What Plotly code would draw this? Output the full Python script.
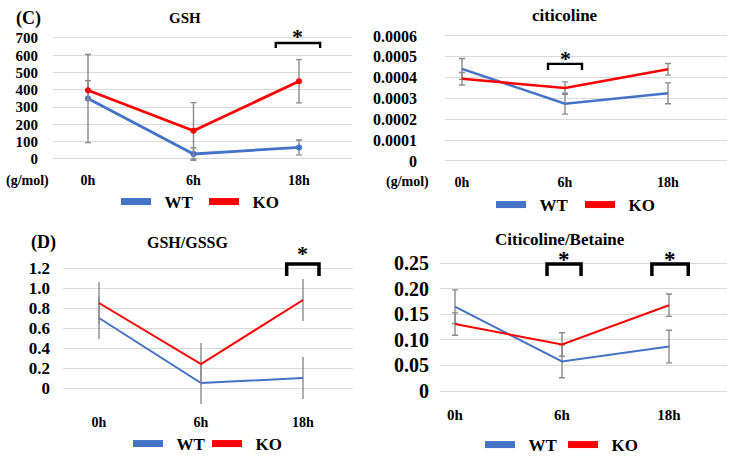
import plotly.graph_objects as go

W, H = 729, 456
FONT = "Liberation Serif"

# ---------------- data ----------------
categories = ["0h", "6h", "18h"]

gsh_wt = [350, 29, 67]
gsh_wt_err = [255, 36, 43]
gsh_ko = [398, 163, 450]
gsh_ko_err = [55, 163, 125]

cit_wt = [0.000442, 0.000275, 0.000325]
cit_wt_err = [0.00005, 0.00005, 0.00005]
cit_ko = [0.000395, 0.00035, 0.00044]
cit_ko_err = [0.00003, 0.00003, 0.000028]

gg_wt = [0.70, 0.05, 0.10]
gg_wt_err = [0.21, 0.21, 0.21]
gg_ko = [0.85, 0.24, 0.88]
gg_ko_err = [0.21, 0.21, 0.21]

cb_wt = [0.165, 0.058, 0.087]
cb_wt_err = [0.033, 0.032, 0.032]
cb_ko = [0.131, 0.091, 0.168]
cb_ko_err = [0.022, 0.023, 0.022]

gsh_ticks = [0, 100, 200, 300, 400, 500, 600, 700]
gsh_ticktext = ["0", "100", "200", "300", "400", "500", "600", "700"]
cit_ticks = [0, 0.0001, 0.0002, 0.0003, 0.0004, 0.0005, 0.0006]
cit_ticktext = ["0", "0.0001", "0.0002", "0.0003", "0.0004", "0.0005", "0.0006"]
gg_ticks = [0, 0.2, 0.4, 0.6, 0.8, 1.0, 1.2]
gg_ticktext = ["0", "0.2", "0.4", "0.6", "0.8", "1.0", "1.2"]
cb_ticks = [0, 0.05, 0.10, 0.15, 0.20, 0.25]
cb_ticktext = ["0", "0.05", "0.10", "0.15", "0.20", "0.25"]

series_names = ["WT", "KO"]

BLUE = "#4472C4"
RED = "#FF0000"
ERR = "#8a8a8a"
GRID = "#d9d9d9"


# ---------------- layout helpers (pixel geometry) ----------------
def xgeom(p0, p2, gl_left, gl_right):
    s = (p2 - p0) / 2.0
    lo = (gl_left - p0) / s
    hi = (gl_right - p0) / s
    return [gl_left / W, gl_right / W], [lo, hi]


def ydom(pz, pt, vt, lo, hi):
    s = (pz - pt) / vt
    bottom = pz - lo * s
    top = pz - hi * s
    return [1 - bottom / H, 1 - top / H]


fig = go.Figure()

panels = [
    dict(wt=gsh_wt, wte=gsh_wt_err, ko=gsh_ko, koe=gsh_ko_err,
         xg=(88, 299, 53, 352), yg=(159, 38, 700), yr=[-15, 712],
         ticks=gsh_ticks, ticktext=gsh_ticktext, tfs=15, tstand=14,
         lw=2.8, marker=True, cap=3, xlab_stand=8, xfs=14),
    dict(wt=cit_wt, wte=cit_wt_err, ko=cit_ko, koe=cit_ko_err,
         xg=(462, 668, 445, 727), yg=(161, 36, 0.0006), yr=[-0.00002, 0.00061],
         ticks=cit_ticks, ticktext=cit_ticktext, tfs=16, tstand=27,
         lw=2.5, marker=False, cap=3, xlab_stand=7, xfs=14),
    dict(wt=gg_wt, wte=gg_wt_err, ko=gg_ko, koe=gg_ko_err,
         xg=(99, 303, 63, 353), yg=(388, 268, 1.2), yr=[-0.2, 1.27],
         ticks=gg_ticks, ticktext=gg_ticktext, tfs=17, tstand=12,
         lw=2.0, marker=False, cap=0, xlab_stand=4, xfs=14),
    dict(wt=cb_wt, wte=cb_wt_err, ko=cb_ko, koe=cb_ko_err,
         xg=(455, 669, 440, 727), yg=(391, 263.3, 0.25), yr=[-0.01, 0.262],
         ticks=cb_ticks, ticktext=cb_ticktext, tfs=20, tstand=10,
         lw=2.0, marker=False, cap=3, xlab_stand=8, xfs=15),
]

legend_pos = [
    dict(x=116, y=202, ew=43),
    dict(x=491, y=205, ew=44),
    dict(x=128, y=444, ew=34),
    dict(x=480, y=445, ew=38),
]

NB = "\u00a0\u00a0"

layout_updates = {}
for i, p in enumerate(panels):
    n = i + 1
    xs = "" if n == 1 else str(n)
    xa, ya = "x" + xs, "y" + xs
    lg = "legend" if n == 1 else "legend" + str(n)
    xdomain, xrange_ = xgeom(*p["xg"])
    ydomain = ydom(p["yg"][0], p["yg"][1], p["yg"][2], p["yr"][0], p["yr"][1])

    for vals, errs, col, nm in ((p["wt"], p["wte"], BLUE, series_names[0]),
                                (p["ko"], p["koe"], RED, series_names[1])):
        fig.add_trace(go.Scatter(
            x=categories, y=vals, xaxis=xa, yaxis=ya, name=nm,
            mode="lines+markers" if p["marker"] else "lines",
            line=dict(color=col, width=p["lw"]),
            marker=dict(color=col, size=6),
            error_y=dict(type="data", array=errs, visible=True, color=ERR,
                         thickness=1.4, width=p["cap"]),
            showlegend=False, cliponaxis=False,
        ))
    for col, nm in ((BLUE, series_names[0]), (RED, series_names[1])):
        fig.add_trace(go.Scatter(
            x=[None], y=[None], xaxis=xa, yaxis=ya, name=NB + nm, mode="lines",
            line=dict(color=col, width=7), legend=lg, showlegend=True,
        ))

    layout_updates["xaxis" + xs] = dict(
        domain=xdomain, range=xrange_, type="category", anchor=ya,
        showgrid=False, zeroline=False, showline=False, ticks="",
        automargin=False,
        tickfont=dict(family=FONT, size=p["xfs"], color="black", weight="bold"),
        ticklabelstandoff=p["xlab_stand"], fixedrange=True,
    )
    layout_updates["yaxis" + xs] = dict(
        domain=ydomain, range=p["yr"], anchor=xa,
        tickvals=p["ticks"], ticktext=p["ticktext"],
        showgrid=True, gridcolor=GRID, gridwidth=1.2, zeroline=False,
        showline=False, ticks="", automargin=False,
        tickfont=dict(family=FONT, size=p["tfs"], color="black", weight="bold"),
        ticklabelstandoff=p["tstand"], fixedrange=True,
    )
    lp = legend_pos[i]
    layout_updates[lg] = dict(
        x=lp["x"] / W, y=1 - lp["y"] / H, xanchor="left", yanchor="middle",
        orientation="h", entrywidth=lp["ew"], entrywidthmode="pixels",
        font=dict(family=FONT, size=17, color="black", weight="bold"),
        bgcolor="rgba(0,0,0,0)", tracegroupgap=0, itemclick=False,
        itemdoubleclick=False,
    )

fig.update_layout(**layout_updates)


def ann(text, x, y, size, xanchor="center"):
    fig.add_annotation(text=text, x=x / W, y=1 - y / H, xref="paper", yref="paper",
                       showarrow=False, xanchor=xanchor, yanchor="middle",
                       font=dict(family=FONT, size=size, color="black", weight="bold"))


ann("(C)", 28, 18, 18)
ann("GSH", 185, 18, 15)
ann("citicoline", 565, 15, 17)
ann("(D)", 43, 242, 18)
ann("GSH/GSSG", 187, 242, 16)
ann("Citicoline/Betaine", 560, 239, 17)
ann("(g/mol)", 27, 181, 14)
ann("(g/mol)", 407, 182, 14)

# significance brackets (data coordinates of each subplot)
brackets = [
    ("x", "y", 1.78, 2.20, 671, 642, 2.4, 22, -8),
    ("x2", "y2", 0.835, 1.165, 0.000466, 0.000437, 2.4, 22, -9),
    ("x3", "y3", 1.84, 2.157, 1.24, 1.12, 3.5, 22, -4),
    ("x4", "y4", 0.86, 1.178, 0.2486, 0.225, 3.5, 23, -10),
    ("x4", "y4", 1.84, 2.18, 0.2486, 0.225, 3.5, 23, -10),
]
for xr, yr, x0, x1, ytop, yleg, w, fs, ysh in brackets:
    fig.add_shape(type="path", xref=xr, yref=yr,
                  path=f"M {x0},{yleg} L {x0},{ytop} L {x1},{ytop} L {x1},{yleg}",
                  line=dict(color="black", width=w))
    fig.add_annotation(text="*", x=(x0 + x1) / 2, y=ytop, xref=xr, yref=yr,
                       showarrow=False, yanchor="bottom", yshift=ysh,
                       font=dict(family=FONT, size=fs, color="black", weight="bold"))

fig.update_layout(
    width=W, height=H, margin=dict(l=0, r=0, t=0, b=0, autoexpand=False),
    paper_bgcolor="white", plot_bgcolor="white", showlegend=True,
)

fig.write_html("out.html", config={"displayModeBar": False},
               post_script="document.body.style.margin='0px';")
